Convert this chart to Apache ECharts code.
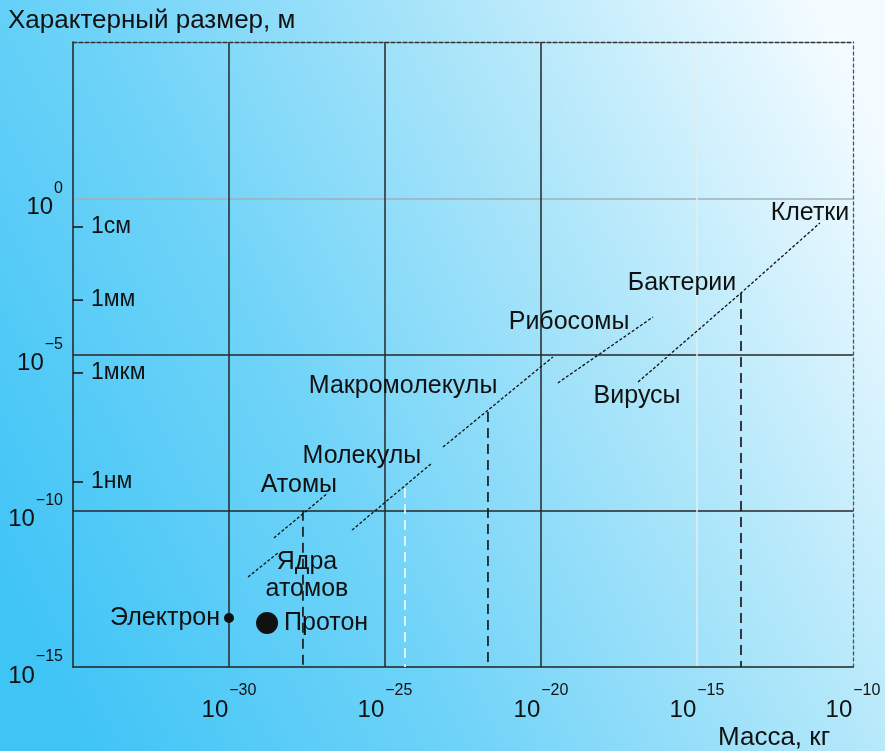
<!DOCTYPE html>
<html>
<head>
<meta charset="utf-8">
<script src="https://cdn.jsdelivr.net/npm/echarts@6/dist/echarts.min.js"></script>
<style>
  html, body { margin: 0; padding: 0; }
  #chart { width: 885px; height: 751px; }
</style>
</head>
<body>
<div id="chart"></div>
<script>
// all values are decimal exponents: mass 10^x kg, size 10^y m
const xTicks = [-35, -30, -25, -20, -15, -10];
const yTicks = [-15, -10, -5, 0, 5];

const unitNames = ['1см', '1мм', '1мкм', '1нм'];
const unitExp = [-0.92, -3.26, -5.59, -9.08];

// dotted ranges
const nucleiLine = [[-29.39, -12.12], [-28.43, -11.35]];
const atomsLine = [[-28.56, -10.87], [-26.83, -9.43]];
const moleculesLine = [[-26.06, -10.62], [-23.49, -8.47]];
const macroLine = [[-23.14, -7.96], [-19.62, -5.08]];
const ribosomesLine = [[-19.46, -5.91], [-16.41, -3.80]];
const cellsLine = [[-16.89, -5.88], [-13.59, -3.03], [-11.06, -0.79]];

// dashed drops down to the mass axis: [mass, top size]
const dropsDark = [[-27.63, -10.0], [-21.70, -6.84], [-13.59, -3.03]];
const dropsLight = [[-24.36, -9.27]];

const electron = [-30.0, -13.43];
const proton = [-28.78, -13.59];

const labelNames = ['Клетки', 'Бактерии', 'Рибосомы', 'Вирусы', 'Макромолекулы',
  'Молекулы', 'Атомы', 'Ядра\nатомов'];
const labelX = [-11.38, -15.48, -19.10, -16.92, -24.42, -25.74, -27.76, -27.50];
const labelY = [-0.47, -2.71, -3.96, -6.33, -6.01, -8.25, -9.18, -12.09];

const chart = echarts.init(document.getElementById('chart'));

const ink = '#111';
const font = 'Liberation Sans, Arial, sans-serif';

function power(v) {
  const e = v < 0 ? '\u2212' + Math.abs(v) : String(v);
  return '{b|10}{e|' + e + '}';
}

const powerRich = {
  b: { fontSize: 24, color: ink, fontFamily: font, padding: [18, 0, 0, 0] },
  e: { fontSize: 16, color: ink, fontFamily: font, padding: [0, 0, 20, 1] }
};

function textStyle(size) {
  return {
    color: ink, fontSize: size, fontFamily: font,
    textBorderWidth: 0, textShadowBlur: 0
  };
}

function segment(points, color, type, width) {
  return {
    type: 'line',
    data: points,
    symbol: 'none',
    silent: true,
    lineStyle: { color: color, type: type, width: width }
  };
}

function drop(p, color) {
  return segment([[p[0], p[1]], [p[0], yTicks[0]]], color, [10, 6], 1.7);
}

const series = [
  segment(nucleiLine, ink, [3, 2], 1.3),
  segment(atomsLine, ink, [3, 2], 1.3),
  segment(moleculesLine, ink, [3, 2], 1.3),
  segment(macroLine, ink, [3, 2], 1.3),
  segment(ribosomesLine, ink, [3, 2], 1.3),
  segment(cellsLine, ink, [3, 2], 1.3)
];
dropsDark.forEach(p => series.push(drop(p, '#1a1a1a')));
dropsLight.forEach(p => series.push(drop(p, '#eef9fd')));

series.push({
  type: 'scatter',
  clip: false,
  silent: true,
  symbol: 'rect',
  symbolSize: [10, 1.5],
  symbolOffset: [5, 0],
  itemStyle: { color: ink, opacity: 1 },
  data: unitExp.map((y, i) => ({ value: [xTicks[0], y], name: unitNames[i] })),
  label: Object.assign({ show: true, position: 'right', distance: 8, formatter: '{b}' }, textStyle(23))
});

series.push({
  type: 'scatter',
  silent: true,
  symbolSize: 10,
  itemStyle: { color: '#111', opacity: 1 },
  data: [{ value: electron, name: 'Электрон' }],
  label: Object.assign({ show: true, position: 'left', distance: 4, formatter: '{b}' }, textStyle(25))
});

series.push({
  type: 'scatter',
  silent: true,
  symbolSize: 22,
  itemStyle: { color: '#111', opacity: 1 },
  data: [{ value: proton, name: 'Протон' }],
  label: Object.assign({ show: true, position: 'right', distance: 6, formatter: '{b}' }, textStyle(25))
});

series.push({
  type: 'scatter',
  silent: true,
  symbolSize: 0,
  itemStyle: { color: '#111', opacity: 1 },
  data: labelNames.map((n, i) => ({ value: [labelX[i], labelY[i]], name: n })),
  label: Object.assign({ show: true, position: 'inside', formatter: '{b}', lineHeight: 27 }, textStyle(25))
});

const option = {
  backgroundColor: {
    type: 'linear', x: 0, y: 0.8, x2: 1, y2: 0.2,
    colorStops: [
      { offset: 0, color: '#3fc4f6' },
      { offset: 0.35, color: '#6fd3f8' },
      { offset: 0.7, color: '#b2e7fa' },
      { offset: 1, color: '#f2fbff' }
    ]
  },
  animation: false,
  title: [
    { text: 'Характерный размер, м', left: 3, top: 3,
      textStyle: { fontSize: 26, fontWeight: 'normal', color: ink, fontFamily: font } },
    { text: 'Масса, кг', left: 713, top: 720,
      textStyle: { fontSize: 26, fontWeight: 'normal', color: ink, fontFamily: font } }
  ],
  grid: { left: 73, right: 32, top: 42, bottom: 84 },
  xAxis: [
    {
      type: 'value', min: xTicks[0], max: xTicks[xTicks.length - 1], interval: 5,
      axisLine: { onZero: false, lineStyle: { color: '#222', width: 1.5 } },
      axisTick: { show: false },
      axisLabel: {
        showMinLabel: false, margin: 13,
        formatter: power, rich: powerRich
      },
      splitLine: {
        show: true,
        lineStyle: {
          width: 1.5,
          color: ['rgba(0,0,0,0)', '#262626', '#262626', '#262626', '#e4ecef', 'rgba(0,0,0,0)']
        }
      }
    },
    {
      type: 'value', position: 'top', min: xTicks[0], max: xTicks[xTicks.length - 1],
      axisLine: { show: true, onZero: false, lineStyle: { color: '#333', width: 1.3, type: [4, 2] } },
      axisTick: { show: false }, axisLabel: { show: false }, splitLine: { show: false }
    }
  ],
  yAxis: [
    {
      type: 'value', min: yTicks[0], max: yTicks[yTicks.length - 1], interval: 5,
      axisLine: { show: true, onZero: false, lineStyle: { color: '#222', width: 1.5 } },
      axisTick: { show: false },
      axisLabel: {
        showMaxLabel: false, margin: 10,
        formatter: power, rich: powerRich
      },
      splitLine: {
        show: true,
        lineStyle: {
          width: 1.5,
          color: ['rgba(0,0,0,0)', '#262626', '#262626', '#9fb0b6', 'rgba(0,0,0,0)']
        }
      }
    },
    {
      type: 'value', position: 'right', min: yTicks[0], max: yTicks[yTicks.length - 1],
      axisLine: { show: true, onZero: false, lineStyle: { color: '#555', width: 1.3, type: [3, 3] } },
      axisTick: { show: false }, axisLabel: { show: false }, splitLine: { show: false }
    }
  ],
  series: series
};

chart.setOption(option);
</script>
</body>
</html>
